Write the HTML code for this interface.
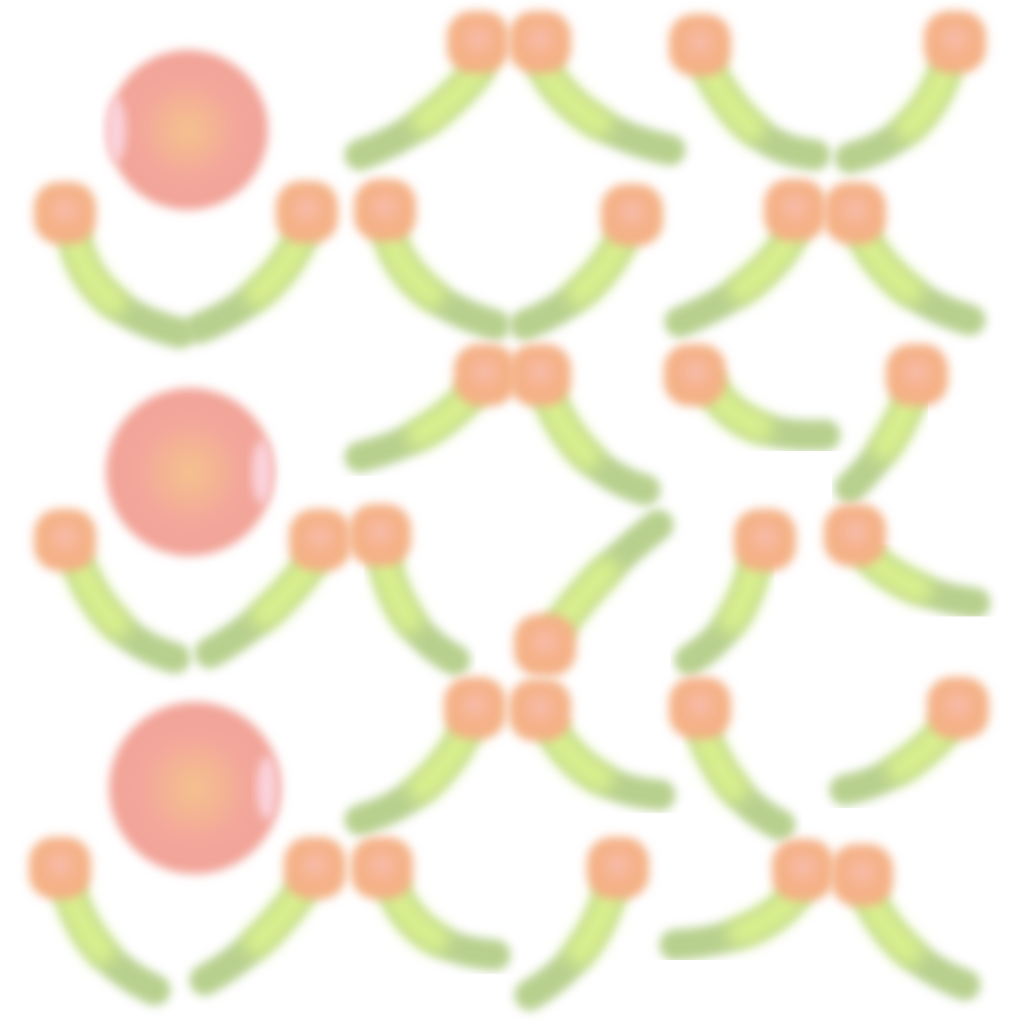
<!DOCTYPE html>
<html><head><meta charset="utf-8"><style>
html,body{margin:0;padding:0;background:#fff;width:1024px;height:1024px;overflow:hidden}
</style></head><body>
<svg width="1024" height="1024" viewBox="0 0 1024 1024">
<defs>
<filter id="b" x="-30%" y="-30%" width="160%" height="160%"><feGaussianBlur stdDeviation="5"/></filter>
<filter id="b3" x="-30%" y="-30%" width="160%" height="160%"><feGaussianBlur stdDeviation="8"/></filter>
<radialGradient id="rg" cx="50%" cy="50%" r="50%">
<stop offset="0" stop-color="#f4c18e"/><stop offset="0.35" stop-color="#f4b294"/><stop offset="0.6" stop-color="#f3a79b"/><stop offset="1" stop-color="#f2a398"/>
</radialGradient>
<radialGradient id="hg" cx="50%" cy="45%" r="50%">
<stop offset="0" stop-color="#f8bcb0"/><stop offset="0.5" stop-color="#f5b38c"/><stop offset="1" stop-color="#f4b083"/>
</radialGradient>
</defs>
<g id="circles"></g>
<g id="stems"></g>
<g id="heads"></g>
</svg>
<script>
const bigCircles=[[188,130,80,1],[190,472,84,1],[195,788,86,1]];
const heads=[[478,42],[540,42],[700,45],[955,42],[65,213],[307,212],[385,210],[632,215],[795,210],[855,213],[485,375],[540,375],[695,375],[917,375],[65,540],[320,540],[380,535],[545,645],[765,540],[855,535],[475,708],[540,710],[700,708],[958,708],[60,868],[315,868],[382,868],[618,868],[803,870],[862,875]];
const stems=["M478,70 Q430,130 360,155","M545,70 Q580,130 670,150","M710,72 Q750,150 815,155","M945,72 Q920,140 850,158","M75,240 Q90,310 180,333","M300,240 Q270,300 200,328","M390,238 Q410,300 495,325","M620,243 Q590,300 525,325","M790,238 Q760,290 680,322","M865,240 Q900,300 970,320","M470,395 Q430,440 360,457","M550,400 Q580,470 645,490","M710,385 Q740,440 825,435","M910,400 Q890,450 850,488","M80,568 Q110,640 175,658","M310,565 Q270,620 210,653","M385,563 Q400,630 455,660","M560,625 Q600,570 658,525","M755,565 Q740,630 690,660","M870,558 Q910,595 975,603","M465,733 Q430,800 360,820","M555,735 Q590,790 660,795","M705,738 Q730,800 780,825","M945,730 Q900,780 845,790","M70,893 Q90,960 155,990","M300,893 Q260,950 205,980","M395,893 Q420,950 495,955","M610,893 Q590,960 530,995","M795,895 Q760,940 675,945","M870,900 Q900,960 965,985"];
const NS="http://www.w3.org/2000/svg";
const cg=document.getElementById('circles'),sg=document.getElementById('stems'),hg=document.getElementById('heads');
bigCircles.forEach((c,i)=>{
 const e=document.createElementNS(NS,'circle');
 e.setAttribute('cx',c[0]);e.setAttribute('cy',c[1]);e.setAttribute('r',c[2]);
 e.setAttribute('fill','url(#rg)');e.setAttribute('filter','url(#b)');
 
 
 cg.appendChild(e);
 const h=document.createElementNS(NS,'ellipse');
 h.setAttribute('cx',i==0?c[0]-72:c[0]+72);h.setAttribute('cy',c[1]);h.setAttribute('rx',10);h.setAttribute('ry',32);
 h.setAttribute('fill','#fbd3dc');h.setAttribute('filter','url(#b)');
 
 
 cg.appendChild(h);
});
stems.forEach(d=>{
 const p=document.createElementNS(NS,'path');
 p.setAttribute('d',d);p.setAttribute('fill','none');p.setAttribute('stroke','#b8d08e');
 p.setAttribute('stroke-width','31');p.setAttribute('stroke-linecap','round');p.setAttribute('filter','url(#b)');
 
 
 sg.appendChild(p);
 const q=document.createElementNS(NS,'path');
 q.setAttribute('d',d);q.setAttribute('fill','none');q.setAttribute('stroke','#d9f08e');
 q.setAttribute('stroke-width','28');q.setAttribute('stroke-linecap','round');q.setAttribute('filter','url(#b3)');
 q.setAttribute('pathLength','100');q.setAttribute('stroke-dasharray','50 200');
 
 
 sg.appendChild(q);
});
heads.forEach(h=>{
 const r=document.createElementNS(NS,'rect');
 r.setAttribute('x',h[0]-31);r.setAttribute('y',h[1]-31);r.setAttribute('width',62);r.setAttribute('height',62);r.setAttribute('rx',25);
 r.setAttribute('fill','url(#hg)');r.setAttribute('filter','url(#b)');
 
 
 hg.appendChild(r);
});
</script>
</body></html>
